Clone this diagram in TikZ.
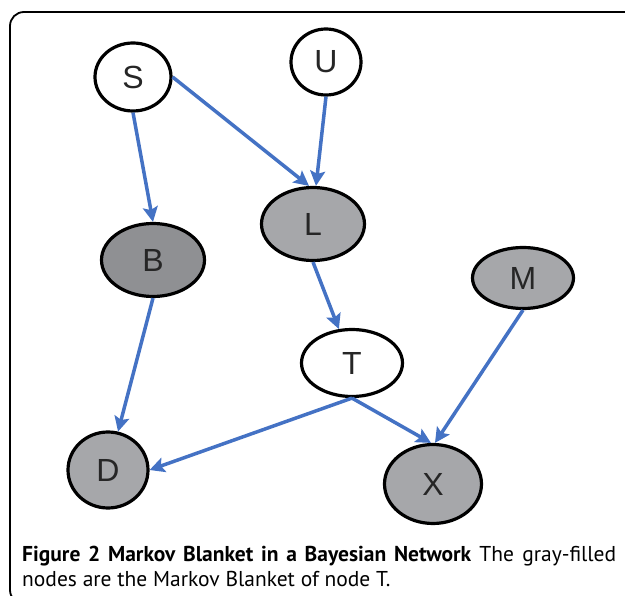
\documentclass[tikz,border=0pt]{standalone}
\usepackage{fontspec}
\setmainfont{Liberation Sans}
\newfontfamily\capfont{PT Sans}
\usetikzlibrary{shapes.geometric,arrows.meta}
\definecolor{edgeblue}{HTML}{4472C4}
\definecolor{midgray}{HTML}{A6A7AA}
\definecolor{darkgray2}{HTML}{8F9093}
\tikzset{
  bnode/.style={ellipse, draw=black, line width=3.2pt, inner sep=0pt,
    font=\fontsize{32}{36}\selectfont, text=black!85},
  plain/.style={bnode, fill=white},
  mb/.style={bnode, fill=midgray},
  mbdark/.style={bnode, fill=darkgray2},
  edge/.style={draw=edgeblue, line width=3.5pt,
    -{Stealth[length=15pt,width=15pt,inset=3pt]}},
  frame/.style={draw=black, line width=1.8pt, rounded corners=14pt}
}
\begin{document}
\begin{tikzpicture}[x=1pt,y=-1pt]
\useasboundingbox (0,0) rectangle (625,596);
\begin{scope}
\clip (0,0) rectangle (625,596);
\draw[frame] (10,12) rectangle (700,604);
\end{scope}

\node[plain, minimum width=76pt, minimum height=68pt] (S) at (133,77) {S};
\node[plain, minimum width=70pt, minimum height=66pt] (U) at (326,62) {U};
\node[mb, minimum width=103pt, minimum height=73pt] (L) at (313,224) {L};
\node[mbdark, minimum width=103pt, minimum height=73pt] (B) at (153,260) {B};
\node[mb, minimum width=101pt, minimum height=61pt] (M) at (523,278) {M};
\node[plain, minimum width=101pt, minimum height=67pt] (T) at (352,363) {T};
\node[mb, minimum width=80pt, minimum height=76pt] (D) at (108,470) {D};
\node[mb, minimum width=97pt, minimum height=79pt] (X) at (433,484) {X};

\draw[edge] (S.south) -- (B.north);
\draw[edge] (S.east) -- ([xshift=-4pt]L.north);
\draw[edge] (U.south) -- ([xshift=3pt]L.north);
\draw[edge] (L.south) -- (T);
\draw[edge] (B.south) -- (D);
\draw[edge] (T.south) -- (D.east);
\draw[edge] (T.south) -- ([xshift=-2pt]X.north);
\draw[edge] (M.south) -- ([xshift=2pt]X.north);

\node[anchor=north west, inner sep=0pt, text width=594pt, align=justify,
  font=\capfont\fontsize{21.5}{25}\selectfont] (cap) at (22,546)
  {\textbf{Figure 2 Markov Blanket in a Bayesian Network} The gray-filled\linebreak nodes are the Markov Blanket of node T.};
\end{tikzpicture}
\end{document}
